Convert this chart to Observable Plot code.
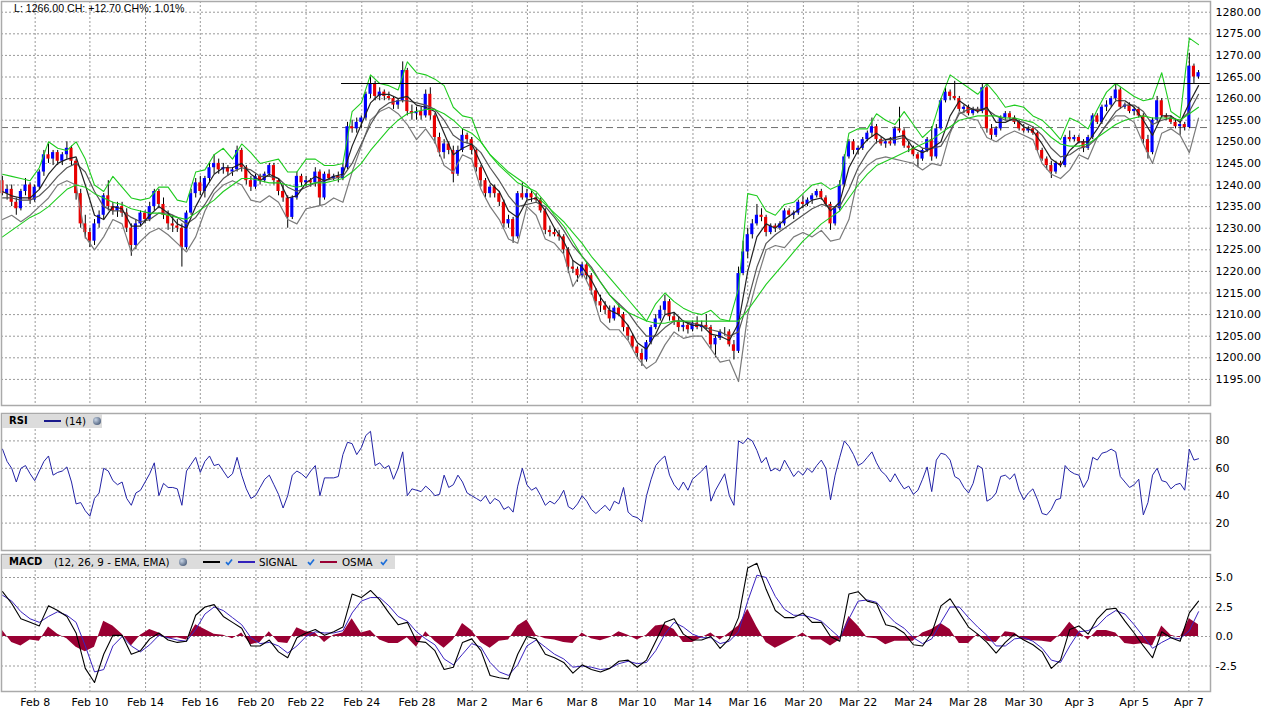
<!DOCTYPE html>
<html><head><meta charset="utf-8">
<script src="https://cdn.jsdelivr.net/npm/d3@7"></script>
<script src="https://cdn.jsdelivr.net/npm/@observablehq/plot@0.6"></script>
<style>
body{margin:0;background:#fff;}
#wrap{position:relative;width:1269px;height:716px;overflow:hidden;background:#fff;font-family:"DejaVu Sans",Verdana,sans-serif;}
.panel{position:absolute;left:0;}
.hdr{position:absolute;left:14px;top:2px;font-family:"Liberation Sans",Arial,sans-serif;font-size:10.6px;color:#000;white-space:nowrap;}
.leg{position:absolute;left:2px;background:#dcdcdc;height:14px;}
.leg span{position:absolute;top:0;line-height:14px;font-size:10.3px;white-space:nowrap;color:#000;}
.leg b{position:absolute;top:0;line-height:14px;font-size:10px;white-space:nowrap;color:#000;}
.leg i{position:absolute;top:6px;height:2px;}
.globe{position:absolute;top:3px;width:8px;height:8px;border-radius:50%;background:radial-gradient(circle at 35% 35%,#c8d4e4,#5a6c88 70%,#34425a);}
.chk{position:absolute;top:3px;}
</style></head>
<body><div id="wrap"></div>
<script>
// ---- price bars (one entry per bar) ----
const open = [1241,1238,1239,1236,1234.5,1238.5,1240,1236.5,1239.5,1243,
1247,1246,1247.5,1245.5,1247,1248.5,1245.5,1238,1231,1229,
1227,1231,1233,1237.5,1235,1234,1235,1233.5,1230,1226,
1231,1233.5,1232,1235,1238.5,1235.5,1233,1231,1230.5,1230,
1225.5,1233.5,1238,1240.5,1238.5,1241.5,1244,1245,1243.5,1244,
1243,1243.5,1248,1244,1241,1239.5,1242,1241,1242.5,1244.5,
1241,1238.5,1237,1232.5,1237,1242,1240.5,1241,1240.5,1243,
1237,1242.5,1241.5,1242,1241.5,1244,1253.5,1253,1254.5,1255.5,
1261,1263.5,1260.5,1261.5,1260.5,1260,1258.5,1259.5,1266.5,1257,
1256.5,1257,1256,1261,1256,1251,1247.5,1249.5,1248,1242.5,
1248,1251.5,1250.5,1248,1244,1241,1238,1239.5,1238,1236,
1231,1232,1228,1238,1237,1238,1237,1236.5,1234,1229.5,
1229,1228.5,1228,1225,1221,1220.5,1219,1221.5,1219,1215.5,
1213,1212,1211,1209,1211.5,1210,1207,1205,1202.5,1201,
1199.5,1203.5,1207,1209,1211,1213,1209.5,1208.5,1207,1207.5,
1206.5,1208,1207,1207.5,1207,1203,1204.5,1206,1206,1203,
1201.5,1219.5,1224.5,1228.5,1231,1233,1232.5,1229,1230.5,1230,
1231,1234,1233,1233.5,1236,1235.5,1236.5,1237.5,1238.5,1237,
1235.5,1231,1234.5,1240,1246.5,1250,1248,1248.5,1250.5,1252,
1253.5,1250.5,1249.5,1250,1249.5,1253,1252.5,1249,1248.5,1247,
1246,1248,1250.5,1246.5,1253,1259.5,1261.5,1260.5,1260,1257.5,
1258,1256.5,1257.5,1257,1262.5,1253,1251.5,1253,1255.5,1256.5,
1255.5,1254.5,1253,1252.5,1253,1252,1248,1246,1244.5,1243,
1245,1244.5,1251,1250.5,1251,1250,1248.5,1251,1256,1254.5,
1258,1258.5,1260,1262,1258,1258.5,1257,1257.5,1256,1250.5,
1247.5,1255,1259.5,1256,1255.5,1254.5,1253.5,1254,1253.3,1267.5,1265];
const high = [1242,1240,1240,1237,1239,1241.5,1240.5,1240,1243.5,1248,
1249.5,1248,1248,1247.5,1250,1249,1246,1239,1233,1230,
1232,1234,1238,1241,1236,1236,1236,1234.5,1231,1232,
1234,1234,1236,1239,1239,1237,1234,1233,1232,1231,
1234,1239,1241.5,1242,1242,1245,1247,1246,1245,1244.5,
1244,1249,1248.5,1244.5,1242,1242.5,1242.5,1243,1245,1245,
1241.5,1240,1237.5,1237.5,1243,1242.5,1242,1241.5,1244,1243.5,
1243,1243.5,1242.5,1243,1245,1254.5,1255,1255.5,1256,1261.5,
1265,1264,1262.5,1262,1261.5,1260.5,1260,1268.5,1267,1258.5,
1258,1258,1262,1262.5,1256.5,1252,1250.5,1250,1249,1249,
1253,1252,1251,1248.5,1244.5,1241.5,1240,1240,1238.5,1236.5,
1233,1232.5,1238.5,1240.5,1239,1238.5,1238,1237,1234.5,1230.5,
1230,1229.5,1228.5,1225.5,1222.5,1221,1222,1222,1219.5,1216,
1214.5,1213,1212,1212,1212.5,1210.5,1207.5,1205.5,1203,1202,
1204,1207.5,1210,1212,1214.5,1213.5,1210.5,1209.5,1208.5,1208,
1208.5,1209.5,1208.5,1210,1207.5,1205,1206.5,1207,1206.5,1204,
1221,1227,1230,1232,1235.5,1234.5,1233,1231,1231,1231.5,
1234.5,1234.5,1234,1236.5,1237.5,1237,1238,1239,1239,1237.5,
1236,1235,1241,1247,1250.5,1250.5,1249,1251,1252.5,1255.5,
1254,1251,1250.5,1251,1253.5,1258,1253,1250,1249,1247.5,
1248.5,1251,1253.5,1254,1260,1262.5,1262,1264,1260.5,1258.5,
1258.5,1258,1258,1263.5,1263,1254,1253.5,1256,1257,1257,
1256,1255,1254,1253.5,1253.5,1252.5,1248.5,1246.5,1245.5,1245.5,
1245.5,1251.5,1252.5,1251.5,1251.5,1250.5,1251.5,1256.5,1256.5,1258.5,
1259.5,1260.5,1263.5,1262.5,1259,1259,1258,1258,1256.5,1251.5,
1255.5,1260.5,1260,1256.5,1256,1255,1254.5,1254.5,1270.5,1268,1266.5];
const low = [1237.5,1236.5,1235,1233,1234,1237.5,1235.5,1236,1239,1242,
1245,1244.5,1244.5,1244.5,1246,1244.5,1236.5,1230,1227.5,1225.5,
1226,1230,1232,1234,1233,1232.5,1232.5,1229,1223.5,1225,
1230.5,1231,1231.5,1234,1234.5,1232,1229.5,1229,1229,1221,
1225,1233,1237,1237.5,1237,1240.5,1242.5,1242.5,1242.5,1242,
1242,1243,1243,1240,1238.5,1239,1240,1240.5,1242,1240,
1237.5,1236,1230,1232,1236.5,1239.5,1239.5,1239.5,1239.5,1235,
1236.5,1241,1241,1240.5,1241,1243.5,1252,1252,1253,1255,
1260,1259.5,1259.5,1259.5,1259.5,1257.5,1257.5,1259,1256,1255,
1255,1255,1255.5,1255,1249.5,1246.5,1246,1247,1240.5,1242,
1247.5,1249.5,1247,1243,1239.5,1237,1237,1237,1235,1230,
1230,1226.5,1227.5,1236.5,1236.5,1236,1236,1233.5,1228.5,1228,
1228,1227,1224,1219.5,1219.5,1217.5,1218.5,1218,1214.5,1212,
1210.5,1210,1208,1208.5,1209.5,1206,1204,1202,1200,1198,
1199,1203,1206.5,1208.5,1210,1208.5,1207.5,1206,1206,1205.5,
1206,1206.5,1206,1206.5,1202,1200,1204,1205,1202.5,1199.5,
1201,1219,1223,1227.5,1230.5,1231.5,1228,1228.5,1229,1229.5,
1230.5,1232.5,1232,1233,1234.5,1235,1235.5,1237,1236.5,1235,
1229.5,1230.5,1234,1239.5,1246,1247,1247,1248,1250,1251,
1249.5,1249,1248.5,1249,1249,1252,1248.5,1247.5,1246.5,1244,
1245.5,1247.5,1245.5,1246,1252.5,1259,1259.5,1259.5,1257,1256.5,
1256,1256,1256.5,1256.5,1252,1250.5,1251,1252.5,1255,1255,
1254,1252.5,1252,1252,1251.5,1247.5,1245.5,1243.5,1241.5,1242.5,
1244,1244,1250,1250,1249.5,1247.5,1248,1250.5,1254,1254,
1257,1258,1259.5,1257.5,1257.5,1256.5,1256,1255.5,1249.5,1246,
1247,1254.5,1255.5,1255,1254,1253,1251.5,1252.5,1253,1263.5,1264.5];
const close = [1238,1239,1236,1234.5,1238.5,1240,1236.5,1239.5,1243,1247,
1246,1247.5,1245.5,1247,1248.5,1245.5,1238,1231,1229,1227,
1231,1233,1237.5,1235,1234,1235,1233.5,1230,1226,1231,
1233.5,1232,1235,1238.5,1235.5,1233,1231,1230.5,1230,1225.5,
1233.5,1238,1240.5,1238.5,1241.5,1244,1245,1243.5,1244,1243,
1243.5,1248,1244,1241,1239.5,1242,1241,1242.5,1244.5,1241,
1238.5,1237,1232.5,1237,1242,1240.5,1241,1240.5,1243,1237,
1242.5,1241.5,1242,1241.5,1244,1253.5,1253,1254.5,1255.5,1261,
1263.5,1260.5,1261.5,1260.5,1260,1258.5,1259.5,1266.5,1257,1256.5,
1257,1256,1261,1256,1251,1247.5,1249.5,1248,1242.5,1248,
1251.5,1250.5,1248,1244,1241,1238,1239.5,1238,1236,1231,
1232,1228,1238,1237,1238,1237,1236.5,1234,1229.5,1229,
1228.5,1228,1225,1221,1220.5,1219,1221.5,1219,1215.5,1213,
1212,1211,1209,1211.5,1210,1207,1205,1202.5,1201,1199.5,
1203.5,1207,1209,1211,1213,1209.5,1208.5,1207,1207.5,1206.5,
1208,1207,1207.5,1207,1203,1204.5,1206,1206,1203,1201.5,
1219.5,1224.5,1228.5,1231,1233,1232.5,1229,1230.5,1230,1231,
1234,1233,1233.5,1236,1235.5,1236.5,1237.5,1238.5,1237,1235.5,
1231,1234.5,1240,1246.5,1250,1248,1248.5,1250.5,1252,1253.5,
1250.5,1249.5,1250,1249.5,1253,1252.5,1249,1248.5,1247,1246,
1248,1250.5,1246.5,1253,1259.5,1261.5,1260.5,1260,1257.5,1258,
1256.5,1257.5,1257,1262.5,1253,1251.5,1253,1255.5,1256.5,1255.5,
1254.5,1253,1252.5,1253,1252,1248,1246,1244.5,1243,1245,
1244.5,1251,1250.5,1251,1250,1248.5,1251,1256,1254.5,1258,
1258.5,1260,1262,1258,1258.5,1257,1257.5,1256,1250.5,1247.5,
1255,1259.5,1256,1255.5,1254.5,1253.5,1254,1253.3,1267.5,1265,1266];

// ---- overlay lines (one value every second bar) ----
const upperBand = [1242.5,1242,1241.5,1241,1244,1250,1248.5,1248,1250,1246,
1240,1238.5,1242,1239.5,1237,1236.5,1237,1239.5,1239.5,1236.5,
1236,1243,1243.5,1247,1248.5,1246,1249.5,1247.5,1245,1245.5,
1246,1243,1243,1246,1246,1244.5,1244.5,1245,1257,1259,
1265.5,1263.5,1263,1262,1268.5,1266,1265.5,1264.5,1263,1258,
1256,1255.5,1250,1247,1245,1243,1241.5,1240,1237.5,1235.5,
1233.5,1231.5,1229,1226.5,1223.5,1221,1218.5,1216,1213.5,1211,
1208.5,1212.5,1215,1213,1211.5,1210.5,1210,1211,1209,1208.5,
1216,1238,1237.5,1234,1233,1235.5,1236,1238,1240,1240.5,
1239,1240,1252,1253,1253,1256.5,1255,1254,1257,1254,
1251,1253,1260,1265.5,1264,1262.5,1261,1263.5,1261,1258,
1258.5,1258,1256,1255,1253,1250.5,1255.5,1254.5,1253,1257.5,
1261.5,1263.5,1262,1260.5,1259.5,1260,1266,1257,1255.5,1274,1272.5];
const slowMA = [1228,1229.5,1231,1232.5,1233.5,1235,1237,1239,1240,1239.5,
1238,1237,1236,1235.5,1234.5,1234,1233.5,1233.5,1233,1232.5,
1232,1233.5,1235,1236.5,1238.5,1240,1241.5,1241.5,1241,1240.5,
1240.5,1240,1239.5,1240,1240.5,1240.5,1241,1241.5,1243,1245,
1248,1250.5,1253,1255,1256.5,1257,1257.5,1257.5,1256.5,1255,
1253,1252,1250,1247,1244.5,1242.5,1240.5,1239.5,1238.5,1236,
1233,1230.5,1227,1223.5,1220.5,1217.5,1214.5,1212,1210.5,1209.5,
1208.5,1208,1208,1208.5,1208.5,1208.5,1208.5,1208.5,1208.5,1208.5,
1208.5,1211,1214,1217,1219.5,1222,1224.5,1227,1229,1231,
1232.5,1234,1237,1240,1242.5,1244.5,1245.5,1246.5,1247.5,1248.5,
1249.5,1250.5,1252,1253.5,1255,1255.5,1256,1256,1256,1255.5,
1255.5,1255,1254.5,1253,1251,1249.5,1249,1249,1249.5,1251,
1252.5,1254,1255,1255.5,1256,1255.5,1255.5,1255.5,1255,1256.5,1258];
const lowerBand = [1232,1233,1231.5,1233,1235,1237,1240,1241,1240,1228,
1225,1228,1232,1231,1224.5,1227,1229,1230,1228.5,1226.5,
1224.5,1228,1234,1238,1240,1241,1240,1236.5,1236,1237.5,
1236,1232,1231,1234.5,1235,1235.5,1237,1236,1243,1249,
1255,1257,1258,1256.5,1254,1250.5,1253,1250,1244.5,1243,
1247,1246,1239,1235,1232,1227.5,1226.5,1235,1233,1227.5,
1226.5,1224,1216.5,1220,1215.5,1208.5,1206.5,1206.5,1204,1200,
1197.5,1199,1203,1206,1204.5,1205,1205,1202,1199,1199.5,
1194.5,1210,1218,1225,1226,1225.5,1228,1229,1228,1229.5,
1227,1227.5,1232,1242,1244.5,1246,1246.5,1246,1245.5,1245,
1243.5,1245,1244.5,1252,1257,1255.5,1255,1251,1250,1251.5,
1252.5,1251.5,1250.5,1245,1242.5,1241.5,1243.5,1247,1246,1251,
1254,1256,1256,1254.5,1249.5,1245,1252,1253,1251.5,1247.5,1255.5];
const fastMA = [1238.5,1237.5,1237,1237,1239,1242.5,1245,1246,1246.5,1240,
1233,1232,1235,1234.5,1230.5,1230.5,1233,1235,1233.5,1231,
1230,1235,1239,1242.5,1244,1244,1245,1242.5,1241,1242.5,
1241.5,1237,1237.5,1240.5,1242,1241,1242,1242.5,1249,1254,
1259,1261,1261,1260,1260.5,1258.5,1258,1257,1252,1247,
1248.5,1249.5,1245,1240.5,1238.5,1234,1232.5,1236.5,1237,1234,
1230,1227,1222.5,1221,1218,1214,1211,1210,1207.5,1203.5,
1202,1205.5,1210,1210.5,1208.5,1207.5,1207.5,1205.5,1205,1204,
1208,1220,1228,1231,1230,1232,1233.5,1235,1236.5,1237,
1234,1236,1244,1248,1250.5,1252,1250.5,1251,1251.5,1248.5,
1247.5,1248.5,1250,1256,1259.5,1258,1257,1258,1254.5,1254.5,
1255.5,1253.5,1252.5,1249.5,1246,1244.5,1248,1250,1250,1253,
1256.5,1259.5,1259.5,1258,1255,1251.5,1256,1256,1254.5,1259,1263];
const midMA = [1237,1237,1236.5,1236.5,1237.5,1239.5,1242,1244,1245,1243,
1238.5,1235,1234,1234,1232.5,1231.5,1232,1233.5,1233.5,1232.5,
1231,1232.5,1235.5,1239,1241.5,1243,1244,1243.5,1242,1242,
1241.5,1239.5,1238.5,1239.5,1240.5,1241,1241.5,1242,1245,1249.5,
1254,1257.5,1259,1259.5,1259.5,1259,1258.5,1257.5,1255,1251.5,
1250,1249.5,1247.5,1244,1241,1237.5,1235,1235.5,1236,1235,
1232.5,1229.5,1226,1223.5,1221,1217.5,1214.5,1212.5,1210.5,1207.5,
1205,1205,1207,1208.5,1208.5,1208,1207.5,1206.5,1206,1205,
1206,1213,1221,1226.5,1228.5,1230,1231.5,1233,1234.5,1235.5,
1235,1235,1239,1244,1247.5,1250,1250.5,1250.5,1251,1250,
1248.5,1248.5,1249,1252.5,1256.5,1257.5,1257.5,1257.5,1256,1255,
1255,1254.5,1253.5,1251.5,1248.5,1246.5,1247,1248.5,1249,1251,
1254,1257,1258.5,1258.5,1257,1254,1255,1255.5,1255,1257,1261];

// ---- RSI (one per bar) ----
const rsi = [74,65,60,50,60,62,56,51,58,65,
69,55,57,58,61,50,34,35,29,25,
38,42,60,58,51,48,50,38,33,42,
44,50,56,64,40,49,46,46,45,33,
58,63,68,57,65,69,62,63,58,53,
56,68,55,45,38,40,46,52,55,48,
41,31,40,55,58,56,53,58,62,40,
53,53,53,54,70,79,78,70,75,84,
87,62,64,60,62,52,60,72,40,45,
44,43,47,44,40,41,55,46,48,55,
50,42,40,38,36,40,34,38,36,30,
32,28,47,60,48,44,46,40,33,36,
34,38,44,32,30,34,40,36,30,27,
30,33,29,36,34,46,28,25,24,21,
40,52,62,66,69,55,48,44,50,44,
52,55,58,62,36,44,50,56,40,33,
80,78,82,80,73,64,68,58,60,58,
66,60,54,58,55,60,57,62,66,60,
37,55,68,80,76,70,62,64,68,72,
64,58,55,50,56,50,45,47,41,44,
52,61,43,66,71,70,66,54,52,46,
42,49,62,60,36,38,42,54,55,52,
56,44,37,42,45,37,27,26,30,37,
38,62,58,56,55,46,52,68,66,71,
72,74,72,54,50,46,48,52,26,35,
55,60,51,50,45,48,49,44,74,66,67];

// ---- MACD (one value every second bar) ----
const macd = [3.8,2.8,1.5,1.2,0.9,2.6,2.2,1.7,0.3,-2.7,
-3.9,-1.5,0.1,0.1,-1.5,-1.2,-0.2,0.3,-0.3,-0.5,
-0.4,1.8,2.5,2.7,1.7,1.2,0.7,-0.8,-0.8,-0.3,
-1.3,-1.8,-0.1,0.3,0.6,0.1,0.4,0.8,3.6,3.3,
3.9,3.1,2.0,1.0,1.2,-0.4,-0.5,-1.2,-2.8,-2.6,
-0.5,-0.2,-1.2,-3.3,-3.5,-3.6,-1.5,0.0,-0.2,-1.5,
-1.8,-2.2,-3.1,-2.4,-2.8,-3.0,-2.7,-2.1,-2.0,-2.6,
-2.0,-0.4,1.2,1.5,0.2,-0.3,-0.3,0.0,-1.0,-0.2,
1.6,5.8,6.2,4.0,2.2,1.6,1.6,2.0,1.2,1.2,
0.0,-0.4,3.6,3.8,3.0,2.8,1.0,0.8,0.3,-0.7,
-0.8,0.3,2.6,3.2,2.0,0.8,0.2,-0.5,-1.4,-0.5,
0.2,-0.3,-0.7,-1.3,-2.7,-2.0,0.6,0.9,0.2,1.5,
2.3,2.4,1.3,0.3,-0.8,-1.8,0.4,-0.1,-0.4,2.0,3.0];
const signal = [3.5,3.0,2.1,1.5,1.2,1.7,2.1,1.8,1.2,-0.8,
-3.0,-2.8,-0.8,0.0,-0.8,-1.3,-0.7,0.1,-0.1,-0.3,
-0.4,0.6,1.9,2.5,2.2,1.6,1.0,-0.1,-0.6,-0.5,
-0.8,-1.4,-0.8,0.0,0.4,0.3,0.3,0.5,2.0,3.0,
3.3,3.3,2.6,1.7,1.3,0.4,-0.2,-0.7,-1.9,-2.4,
-1.5,-0.6,-0.9,-2.2,-3.0,-3.3,-2.4,-0.8,-0.3,-0.9,
-1.5,-1.9,-2.6,-2.5,-2.6,-2.8,-2.7,-2.3,-2.1,-2.3,
-2.2,-1.2,0.2,1.2,0.8,0.2,-0.1,-0.1,-0.6,-0.4,
0.4,3.0,5.2,5.0,3.4,2.3,1.8,1.8,1.6,1.3,
0.6,-0.1,1.5,3.0,3.1,2.9,2.0,1.2,0.7,-0.1,
-0.6,-0.2,1.2,2.5,2.5,1.6,0.8,0.1,-0.8,-0.8,
-0.2,-0.1,-0.4,-1.0,-2.0,-2.2,-0.8,0.4,0.5,0.9,
1.7,2.2,1.9,1.0,0.0,-1.0,-0.5,-0.1,-0.2,0.5,2.1];
const osma = [0.5,-0.5,-0.8,-0.3,-0.4,0.8,0.2,-0.2,-0.9,-1.3,
-0.9,1.3,0.9,0.2,-0.8,0.1,0.6,0.3,-0.2,-0.1,
-0.3,1.0,0.6,0.2,0.1,-0.2,0.3,-0.7,-0.5,0.4,
-0.5,-0.6,0.75,0.4,0.3,-0.5,0.1,0.3,1.5,0.3,
0.5,-0.3,-0.6,-0.6,-0.1,-0.9,0.4,-0.4,-1.0,-0.3,
1.1,0.5,-0.5,-1.0,-0.4,-0.3,0.9,1.4,0.1,-0.2,
-0.3,-0.5,-0.6,0.3,-0.2,-0.35,-0.1,0.4,0.1,-0.3,
0.1,0.9,1.0,0.6,-0.5,-0.5,-0.1,0.3,-0.3,0.3,
0.9,2.3,0.8,-0.5,-1.0,-0.6,-0.2,0.3,-0.3,-0.3,
-0.8,-0.3,1.7,0.9,-0.1,-0.2,-0.7,-0.4,-0.4,-0.4,
0.3,0.6,1.1,0.6,-0.6,-0.6,0.2,-0.4,-0.5,0.4,
0.3,-0.3,-0.35,-0.4,-0.5,0.2,1.2,0.4,-0.3,0.5,
0.5,0.3,-0.6,-0.7,-0.6,-0.8,0.9,0.1,-0.1,1.5,1.0];

// ---- axes ----
const tickPos = [7.1,19,31.1,43,55.1,66,78.1,90.1,102.1,114.1,126,138,150.1,162,174.1,186,198,209.9,222,234.1,246,257.9];
const tickLabels = ["Feb 8","Feb 10","Feb 14","Feb 16","Feb 20","Feb 22","Feb 24","Feb 28","Mar 2","Mar 6","Mar 8","Mar 10","Mar 14","Mar 16","Mar 20","Mar 22","Mar 24","Mar 28","Mar 30","Apr 3","Apr 5","Apr 7"];
const priceTicks = [1195,1200,1205,1210,1215,1220,1225,1230,1235,1240,1245,1250,1255,1260,1265,1270,1275,1280];
const rsiTicks = [20,40,60,80];
const macdTicks = [-2.5,0,2.5,5];
const resistanceLevel = 1263.5, resistanceStart = 73.7, prevClose = 1253.3;
const header = "L: 1266.00 CH: +12.70 CH%: 1.01%";

// ---- build tables ----
const bars = close.map((c, i) => ({i, open: open[i], high: high[i], low: low[i], close: c}));
const lines = upperBand.map((u, j) => ({x: j * 2, upper: u, slow: slowMA[j], lower: lowerBand[j], fast: fastMA[j], mid: midMA[j], macd: macd[j], signal: signal[j], osma: osma[j]}));
const rsiData = rsi.map((v, i) => ({i, v}));
const labelOf = new Map(tickPos.map((p, k) => [p, tickLabels[k]]));

const W = 1269, MR = 59, ML = 1;
const xDomain = [-0.217, 262.6];
const grid = {stroke: "#9a9a9a", strokeOpacity: 1, strokeDasharray: "2,2"};
const frame = Plot.frame({stroke: "#aaaaaa", strokeWidth: 1.5});
const style = {fontFamily: "DejaVu Sans, Verdana, sans-serif", fontSize: "11px", background: "transparent", overflow: "visible", color: "#000"};

const wrap = document.getElementById("wrap");
function place(node, top) { node.classList.add("panel"); node.style.top = top + "px"; wrap.appendChild(node); }

// main price panel
const main = Plot.plot({
  width: W, height: 406, marginLeft: ML, marginRight: MR, marginTop: 1, marginBottom: 1,
  style,
  x: {domain: xDomain, axis: null, label: null},
  y: {domain: [1188.96, 1282.48], label: null},
  marks: [
    Plot.gridX(tickPos, grid),
    Plot.gridY(priceTicks, grid),
    Plot.ruleY([prevClose], {stroke: "#707070", strokeDasharray: "7,4", strokeWidth: 1}),
    Plot.ruleX(bars, {x: "i", y1: "low", y2: "high", stroke: "#000", strokeWidth: 1}),
    Plot.rect(bars, {x1: d => d.i - 0.34, x2: d => d.i + 0.34, y1: "open", y2: "close",
      fill: d => d.close >= d.open ? "#0000ff" : "#e80000"}),
    Plot.line(lines, {x: "x", y: "lower", stroke: "#7a7a7a", strokeWidth: 1.2}),
    Plot.line(lines, {x: "x", y: "mid", stroke: "#555", strokeWidth: 1.2}),
    Plot.line(lines, {x: "x", y: "fast", stroke: "#222", strokeWidth: 1.2}),
    Plot.line(lines, {x: "x", y: "slow", stroke: "#1fcc1f", strokeWidth: 1.1}),
    Plot.line(lines, {x: "x", y: "upper", stroke: "#1fcc1f", strokeWidth: 1.1}),
    Plot.ruleY([resistanceLevel], {x1: resistanceStart, x2: xDomain[1], stroke: "#000", strokeWidth: 1.2}),
    frame,
    Plot.axisY(priceTicks, {anchor: "right", tickSize: 0, tickPadding: 5, label: null, tickFormat: d => d.toFixed(2)})
  ]
});
place(main, 0);

// RSI panel
const rsiPlot = Plot.plot({
  width: W, height: 139, marginLeft: ML, marginRight: MR, marginTop: 1, marginBottom: 1,
  style,
  x: {domain: xDomain, axis: null, label: null},
  y: {domain: [0, 100], label: null},
  marks: [
    Plot.gridX(tickPos, grid),
    Plot.gridY(rsiTicks, grid),
    Plot.line(rsiData, {x: "i", y: "v", stroke: "#2323a6", strokeWidth: 1}),
    frame,
    Plot.axisY(rsiTicks, {anchor: "right", tickSize: 0, tickPadding: 5, label: null, tickFormat: d => String(d)})
  ]
});
place(rsiPlot, 412);

// MACD panel
const macdPlot = Plot.plot({
  width: W, height: 163, marginLeft: ML, marginRight: MR, marginTop: 1, marginBottom: 25,
  style,
  x: {domain: xDomain, label: null},
  y: {domain: [-4.66, 6.95], label: null},
  marks: [
    Plot.gridX(tickPos, grid),
    Plot.gridY(macdTicks, grid),
    Plot.areaY(lines, {x: "x", y: "osma", fill: "#990033", curve: "linear"}),
    Plot.line(lines, {x: "x", y: "signal", stroke: "#3a22c0", strokeWidth: 1}),
    Plot.line(lines, {x: "x", y: "macd", stroke: "#000", strokeWidth: 1.1}),
    frame,
    Plot.axisY(macdTicks, {anchor: "right", tickSize: 0, tickPadding: 5, label: null, tickFormat: d => d.toFixed(1)}),
    Plot.axisX(tickPos, {anchor: "bottom", tickSize: 0, tickPadding: 7, label: null, tickFormat: d => labelOf.get(d)})
  ]
});
place(macdPlot, 553);

// header and legends
const hdr = document.createElement("div");
hdr.className = "hdr"; hdr.textContent = header; wrap.appendChild(hdr);

const check = left => `<svg class="chk" style="left:${left}px" width="8" height="8" viewBox="0 0 8 8"><path d="M1,4.2 L3.1,6.4 L7,1.4" fill="none" stroke="#1e6fd9" stroke-width="1.7"/></svg>`;
const rsiLeg = document.createElement("div");
rsiLeg.className = "leg"; rsiLeg.style.top = "414px"; rsiLeg.style.width = "100px";
rsiLeg.innerHTML = `<b style="left:7px">RSI</b><i style="left:42px;width:17px;background:#1a1a8c"></i><span style="left:63px">(14)</span><div class="globe" style="left:91px"></div>`;
wrap.appendChild(rsiLeg);

const macdLeg = document.createElement("div");
macdLeg.className = "leg"; macdLeg.style.top = "555px"; macdLeg.style.width = "393px";
macdLeg.innerHTML = `<b style="left:7px">MACD</b><span style="left:52px">(12, 26, 9 - EMA, EMA)</span><div class="globe" style="left:177px"></div>` +
  `<i style="left:201px;width:17px;background:#000"></i>${check(223)}` +
  `<i style="left:236px;width:17px;background:#3322bb"></i><span style="left:257px">SIGNAL</span>${check(305)}` +
  `<i style="left:318px;width:17px;background:#990033"></i><span style="left:340px">OSMA</span>${check(378)}`;
wrap.appendChild(macdLeg);
</script>
</body></html>
